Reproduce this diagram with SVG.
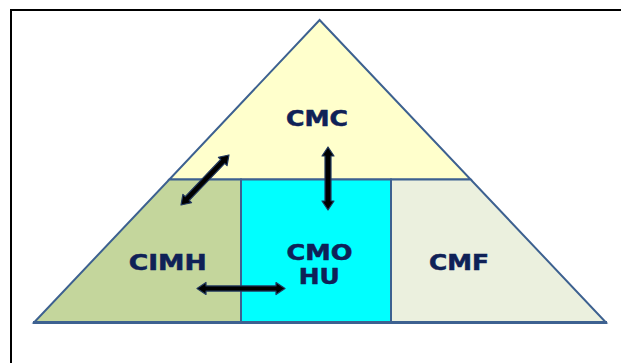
<svg xmlns="http://www.w3.org/2000/svg" width="621" height="363" viewBox="0 0 621 363">
  <style>
    .seg { stroke: #3D6190; stroke-width: 2; stroke-linejoin: miter; }
    .lbl { font-family: "DejaVu Sans", Verdana, sans-serif; font-weight: bold; font-size: 20.5px; fill: #0F2157; stroke: #0F2157; stroke-width: 0.5; }
    .arr { fill: #000; stroke: #22385E; stroke-width: 1.2; stroke-linejoin: round; }
  </style>
  <rect x="0" y="0" width="621" height="363" fill="#fff"/>
  <!-- outer frame, open to the right and bottom -->
  <rect x="11" y="10" width="700" height="400" fill="none" stroke="#000" stroke-width="2"/>

  <g id="cmc">
    <polygon class="seg" fill="#FFFFCC" points="319.6,20 470.7,179.5 169.3,179.5"/>
    <text class="lbl" x="317" y="126" text-anchor="middle" textLength="62" lengthAdjust="spacingAndGlyphs">CMC</text>
  </g>
  <g id="cimh">
    <polygon class="seg" fill="#C4D69C" points="169.3,179.5 241,179.5 241,322.5 34,322.5"/>
    <text class="lbl" x="167.7" y="269.5" text-anchor="middle" textLength="78" lengthAdjust="spacingAndGlyphs">CIMH</text>
  </g>
  <g id="cmohu">
    <rect class="seg" fill="#00FFFF" x="241" y="179.5" width="150" height="143"/>
    <text class="lbl" x="319.6" y="259.5" text-anchor="middle" textLength="66" lengthAdjust="spacingAndGlyphs">CMO</text>
    <text class="lbl" x="319.2" y="284" text-anchor="middle" textLength="41" lengthAdjust="spacingAndGlyphs">HU</text>
  </g>
  <g id="cmf">
    <polygon class="seg" fill="#EBF0DE" points="391,179.5 470.7,179.5 606,322.5 391,322.5"/>
    <text class="lbl" x="459" y="269.5" text-anchor="middle" textLength="60" lengthAdjust="spacingAndGlyphs">CMF</text>
  </g>
  <!-- base edge drawn heavier -->
  <line x1="33" y1="322.5" x2="607" y2="322.5" stroke="#3D6190" stroke-width="3"/>

  <g id="connectors">
    <!-- CIMH <-> CMC, diagonal -->
    <path class="arr" transform="translate(181,205) rotate(-46.2)" d="M0,0 L9,-6 L9,-2.8 L60.3,-2.8 L60.3,-6 L69.3,0 L60.3,6 L60.3,2.8 L9,2.8 L9,6 Z"/>
    <!-- CMO HU <-> CMC, vertical -->
    <path class="arr" transform="translate(328,147) rotate(90)" d="M0,0 L9,-6 L9,-3 L54,-3 L54,-6 L63,0 L54,6 L54,3 L9,3 L9,6 Z"/>
    <!-- CIMH <-> CMO HU, horizontal -->
    <path class="arr" transform="translate(197,288.5)" d="M0,0 L9,-6 L9,-2.6 L79,-2.6 L79,-6 L88,0 L79,6 L79,2.6 L9,2.6 L9,6 Z"/>
  </g>
</svg>
